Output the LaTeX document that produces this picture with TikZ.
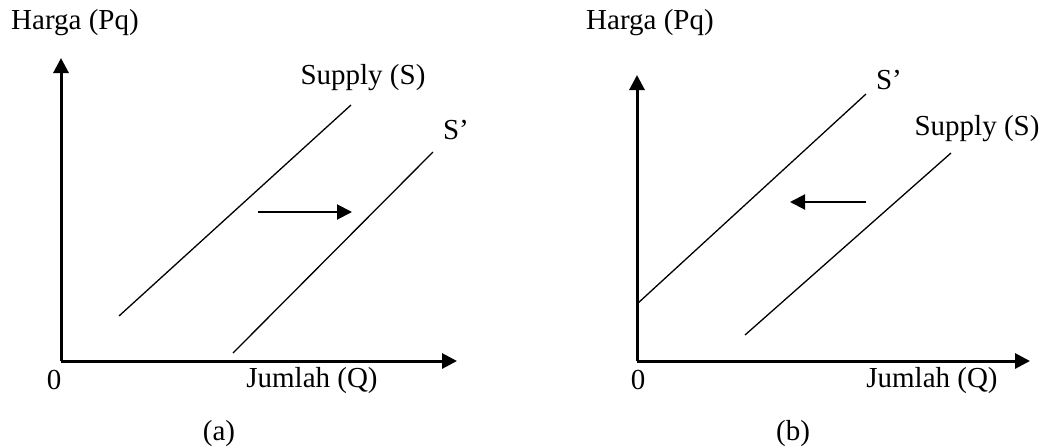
\documentclass[tikz,border=0pt]{standalone}
\usepackage{fontspec}
\setmainfont{Liberation Serif}
\usetikzlibrary{arrows.meta}

\begin{document}
\begin{tikzpicture}[x=0.5pt,y=-0.5pt,font=\fontsize{14.5}{17}\selectfont,
  axis/.style={line width=1.5pt,-{Triangle[length=7.5pt,width=7.5pt]}},
  curve/.style={line width=0.65pt},
  geser/.style={line width=1pt,-{Triangle[length=7.5pt,width=7.5pt]}},
  lbl/.style={inner sep=0pt}]
  \useasboundingbox (0,0) rectangle (1046,446);
  % (a) supply naik: kurva bergeser ke kanan
  \coordinate (oa) at (61,361);
  \coordinate (ya) at (61,58);
  \coordinate (xa) at (457,361);
  \draw[axis] (oa)--(ya);
  \draw[axis] (oa)--(xa);
  \node[lbl] (pa) at (75,23) {Harga (Pq)};
  \node[lbl] (qa) at (312,381) {Jumlah (Q)};
  \node[lbl] (za) at (54,380) {0};
  \node[lbl] (ta) at (219,434) {(a)};
  \coordinate (sa1) at (119,316);
  \coordinate (sa2) at (351,105);
  \coordinate (sa3) at (233,353);
  \coordinate (sa4) at (433,152);
  \draw[curve] (sa1)--(sa2);
  \draw[curve] (sa3)--(sa4);
  \node[lbl] (supa) at (363,78) {Supply (S)};
  \node[lbl] (sha) at (456,130) {S’};
  \coordinate (ma1) at (258,212);
  \coordinate (ma2) at (352,212);
  \draw[geser] (ma1)--(ma2);
  % (b) supply turun: kurva bergeser ke kiri
  \coordinate (ob) at (637,361);
  \coordinate (yb) at (637,75);
  \coordinate (xb) at (1030,361);
  \draw[axis] (ob)--(yb);
  \draw[axis] (ob)--(xb);
  \node[lbl] (pb) at (650,23) {Harga (Pq)};
  \node[lbl] (qb) at (932,381) {Jumlah (Q)};
  \node[lbl] (zb) at (638,380) {0};
  \node[lbl] (tb) at (793,434) {(b)};
  \coordinate (sb1) at (637,304);
  \coordinate (sb2) at (866,94);
  \coordinate (sb3) at (745,335);
  \coordinate (sb4) at (951,153);
  \draw[curve] (sb1)--(sb2);
  \draw[curve] (sb3)--(sb4);
  \node[lbl] (shb) at (889,80) {S’};
  \node[lbl] (supb) at (977,129) {Supply (S)};
  \coordinate (mb1) at (866,202);
  \coordinate (mb2) at (790,202);
  \draw[geser] (mb1)--(mb2);
\end{tikzpicture}
\end{document}
